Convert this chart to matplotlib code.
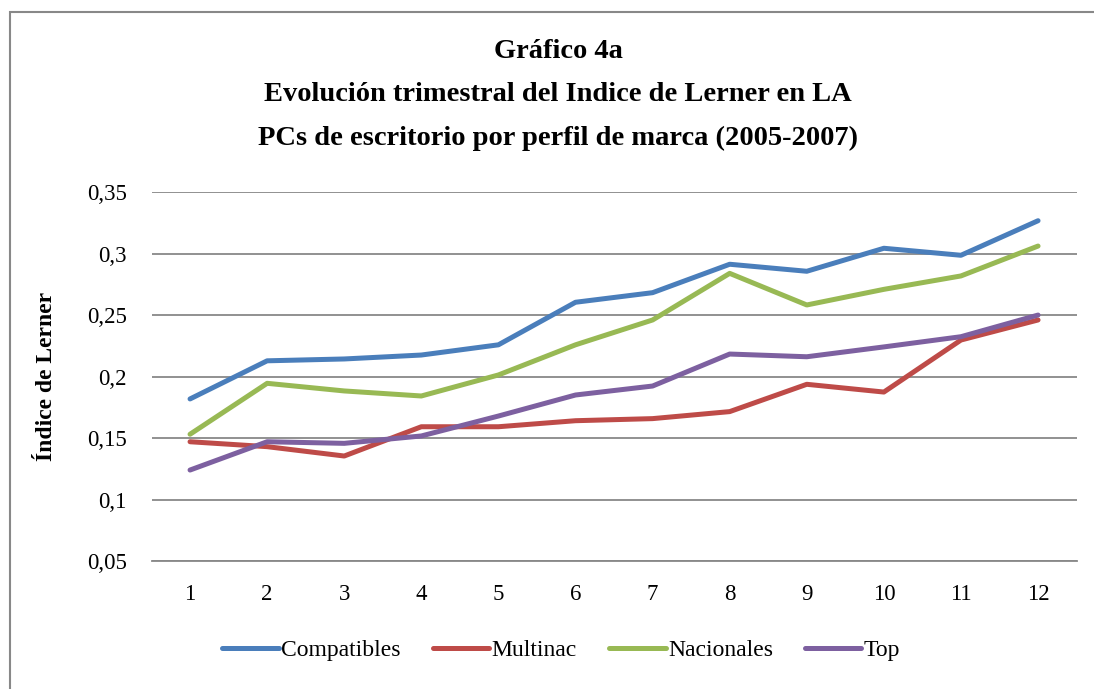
import matplotlib
matplotlib.use("Agg")
import matplotlib.pyplot as plt
from matplotlib.patches import Rectangle

quarters = list(range(1, 13))
compatibles = [0.182, 0.213, 0.2145, 0.2177, 0.226, 0.2606, 0.2684, 0.2915, 0.2858, 0.3045, 0.2988, 0.3269]
multinac = [0.1472, 0.1432, 0.1356, 0.1594, 0.1594, 0.1643, 0.166, 0.1717, 0.1939, 0.1876, 0.2299, 0.2462]
nacionales = [0.1533, 0.1947, 0.1885, 0.1844, 0.2015, 0.226, 0.2462, 0.2841, 0.2584, 0.2711, 0.282, 0.3063]
top = [0.1242, 0.1472, 0.1459, 0.1519, 0.1681, 0.1852, 0.1925, 0.2185, 0.2163, 0.2243, 0.2326, 0.2502]
series_names = ["Compatibles", "Multinac", "Nacionales", "Top"]
colors = ["#4A7EBB", "#BE4B48", "#98B954", "#7D60A0"]
yticks = [0.05, 0.1, 0.15, 0.2, 0.25, 0.3, 0.35]
ytick_labels = ["0,05", "0,1", "0,15", "0,2", "0,25", "0,3", "0,35"]
title_lines = ["Gráfico 4a",
               "Evolución trimestral del Indice de Lerner en LA",
               "PCs de escritorio por perfil de marca (2005-2007)"]
ylabel = "Índice de Lerner"

plt.rcParams['font.family'] = ['Liberation Serif', 'DejaVu Serif']

W, H = 1094, 689
fig = plt.figure(figsize=(W / 100, H / 100), dpi=100)

# outer border
fig.patches.append(Rectangle((10 / W, -0.05), 1.2, 1 - 12 / H + 0.05, transform=fig.transFigure,
                             fill=False, edgecolor="#888888", linewidth=1.5))

left, right = 151.5 / W, 1076.6 / W
bottom, topy = 1 - 561.3 / H, 1 - 192.3 / H
ax = fig.add_axes([left, bottom, right - left, topy - bottom])

for vals, name, c in zip([compatibles, multinac, nacionales, top], series_names, colors):
    ax.plot(quarters, vals, color=c, lw=3.6, label=name, solid_capstyle='round', solid_joinstyle='round', zorder=3)

ax.set_xlim(0.5, 12.5)
ax.set_ylim(0.05, 0.35)
ax.set_yticks(yticks)
ax.set_yticklabels(ytick_labels, fontsize=16.5)
ax.set_xticks(quarters)
ax.set_xticklabels([str(q) for q in quarters], fontsize=16.5)
ax.tick_params(axis='both', length=0)
ax.tick_params(axis='x', pad=16)
ax.tick_params(axis='y', pad=18)
ax.grid(axis='y', color='#888888', lw=1.3, zorder=1)
for s in ['top', 'right', 'left']:
    ax.spines[s].set_visible(False)
ax.spines['bottom'].set_color('#888888')
ax.spines['bottom'].set_linewidth(1.3)

ax.set_ylabel(ylabel, fontsize=17, fontweight='bold', labelpad=21)

for i, line in enumerate(title_lines):
    fig.text(558 / W, 1 - (51 + i * 43.5) / H, line, ha='center', va='center', fontsize=20.5, fontweight='bold')

fig.legend(loc='center', bbox_to_anchor=(0.513, 1 - 650 / H), ncol=4, frameon=False, fontsize=17,
           handlelength=2.4, handletextpad=0.1, columnspacing=1.35)

fig.savefig("out.png", dpi=100)
